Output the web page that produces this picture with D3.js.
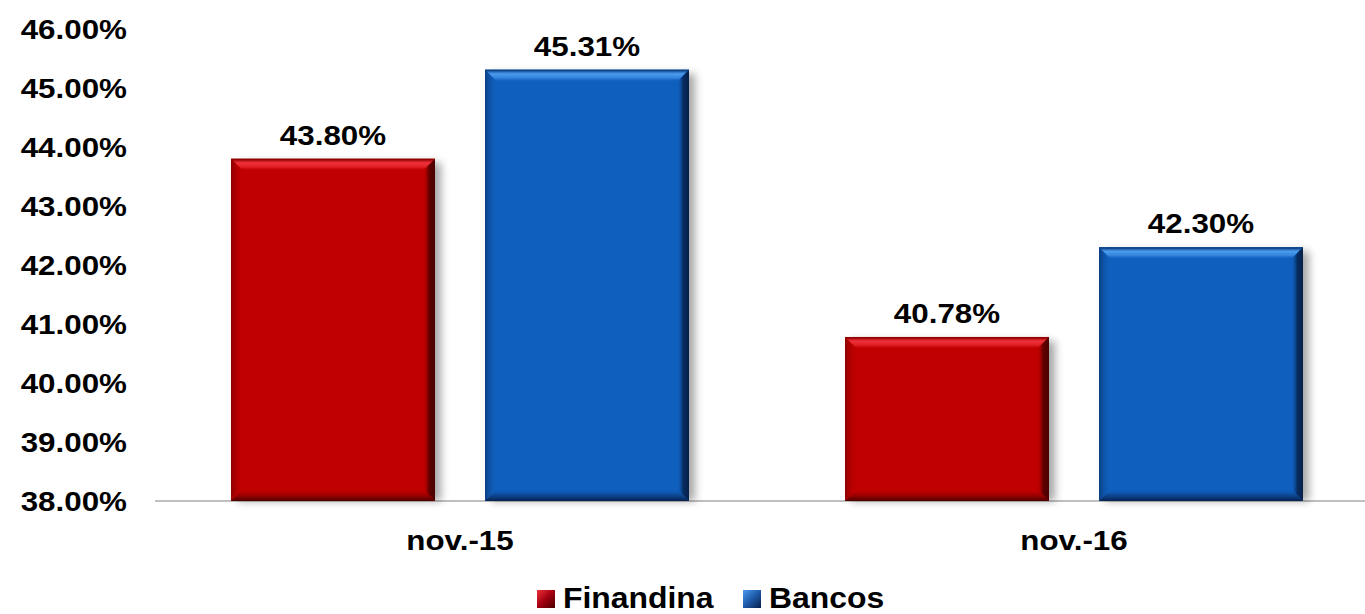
<!DOCTYPE html>
<html><head><meta charset="utf-8">
<script src="https://cdn.jsdelivr.net/npm/d3@7"></script>
<style>
html,body{margin:0;padding:0;background:#fff;}
text{font-family:"Liberation Sans",Arial,sans-serif;font-weight:bold;fill:#000;}
</style></head>
<body>
<svg id="c" width="1365" height="614"></svg>
<script>
const categories = ["nov.-15", "nov.-16"];
const seriesNames = ["Finandina", "Bancos"];
const finandina = [43.80, 40.78];
const bancos = [45.31, 42.30];
const yTicks = [38, 39, 40, 41, 42, 43, 44, 45, 46];

const svg = d3.select("#c");
const W = 1365, H = 614;
const y = d3.scaleLinear().domain([38, 46]).range([501, 29]);
const x = d3.scaleBand().domain(categories).range([153, 1381]).paddingInner(0).paddingOuter(0);
const xs = d3.scaleBand().domain(seriesNames).range([78, 536]).paddingInner(50/254).paddingOuter(0);

const styles = {
  Finandina: {base:"#C00000", light:"#F0303A", dark:"#4A0000", mid:"#8E0000", leg:"#A00010"},
  Bancos: {base:"#0F5FBE", light:"#4A9AEE", dark:"#06204A", mid:"#0B3E80", leg:"#1D5AA8"}
};

const defs = svg.append("defs");
defs.append("filter").attr("id","sh").attr("x","-20%").attr("y","-20%").attr("width","150%").attr("height","140%")
  .append("feGaussianBlur").attr("stdDeviation", 4);
function grad(id, x1,y1,x2,y2, stops){
  const g = defs.append("linearGradient").attr("id", id)
    .attr("x1",x1).attr("y1",y1).attr("x2",x2).attr("y2",y2);
  stops.forEach(s => g.append("stop").attr("offset", s[0]).attr("stop-color", s[1]).attr("stop-opacity", s[2] == null ? 1 : s[2]));
}
seriesNames.forEach(s => {
  const c = styles[s];
  grad("top"+s, 0,0,0,1, [[0,c.mid],[0.35,c.light],[0.7,c.light,0.6],[1,c.base,0]]);
  grad("right"+s, 1,0,0,0, [[0,c.dark],[0.5,c.dark,0.8],[1,c.base,0]]);
  grad("bottom"+s, 0,1,0,0, [[0,c.dark],[0.5,c.mid,0.7],[1,c.base,0]]);
  grad("left"+s, 0,0,1,0, [[0,c.mid],[1,c.base,0]]);
  grad("leg"+s, 0,0,1,1, [[0,c.light],[0.5,c.leg],[1,c.dark]]);
});

// axis line
svg.append("line").attr("x1",155).attr("x2",W).attr("y1",y(38)).attr("y2",y(38))
  .attr("stroke","#BFBFBF").attr("stroke-width",2);

// y axis labels
const SX = 1.12;
const yAxis = d3.axisLeft(y).tickValues(yTicks).tickSize(0).tickPadding(0)
  .tickFormat(d => d.toFixed(2) + "%");
const yg = svg.append("g").attr("transform","translate(127,0)").call(yAxis);
yg.select(".domain").remove();
yg.selectAll("text").attr("font-size",28).attr("dy","0.33em")
  .style("font-family",'"Liberation Sans",Arial,sans-serif').style("font-weight","bold")
  .attr("transform","scale(" + SX + ",1)").attr("x",0)
  .each(function(){ d3.select(this).attr("transform", null); });
yg.selectAll(".tick").each(function(){
  const t = d3.select(this).select("text");
  t.attr("transform","scale("+SX+",1)");
});

// bars
const data = [];
categories.forEach((c,i) => {
  data.push({cat:c, s:"Finandina", v:finandina[i]});
  data.push({cat:c, s:"Bancos", v:bancos[i]});
});
const b = 12;
data.forEach(d => {
  const x0 = x(d.cat) + xs(d.s), w = xs.bandwidth();
  const y0 = y(d.v), h = y(38) - y0;
  const g = svg.append("g");
  const c = styles[d.s];
  g.append("rect").attr("x", x0+6).attr("y", y0+4).attr("width", w).attr("height", h-4)
    .attr("fill","#000").attr("opacity",0.35).attr("filter","url(#sh)");
  g.append("rect").attr("x", x0).attr("y", y0).attr("width", w).attr("height", h).attr("fill", c.base);
  const pts = a => a.map(p => p.join(",")).join(" ");
  g.append("polygon").attr("points", pts([[x0,y0],[x0+w,y0],[x0+w-b,y0+b],[x0+b,y0+b]])).attr("fill","url(#top"+d.s+")");
  g.append("polygon").attr("points", pts([[x0,y0],[x0+b,y0+b],[x0+b,y0+h-b],[x0,y0+h]])).attr("fill","url(#left"+d.s+")");
  g.append("polygon").attr("points", pts([[x0+w,y0],[x0+w,y0+h],[x0+w-b,y0+h-b],[x0+w-b,y0+b]])).attr("fill","url(#right"+d.s+")");
  g.append("polygon").attr("points", pts([[x0,y0+h],[x0+w,y0+h],[x0+w-b,y0+h-b],[x0+b,y0+h-b]])).attr("fill","url(#bottom"+d.s+")");
  g.append("rect").attr("x", x0).attr("y", y0).attr("width", w).attr("height", 1.5).attr("fill", c.mid).attr("opacity",0.7);
  svg.append("text").attr("transform", "translate(" + (x0 + w/2) + "," + (y0 - 14) + ") scale(" + SX + ",1)")
    .attr("text-anchor","middle").attr("font-size",28).text(d.v.toFixed(2) + "%");
});

// x axis labels
const xAxis = d3.axisBottom(x).tickSize(0).tickPadding(0);
const xg = svg.append("g").attr("transform","translate(0," + 550 + ")").call(xAxis);
xg.select(".domain").remove();
xg.selectAll("text").attr("font-size",28).attr("dy",0).attr("y",0)
  .style("font-family",'"Liberation Sans",Arial,sans-serif').style("font-weight","bold")
  .attr("transform","scale("+SX+",1)");

// legend
const legX = [537, 743];
seriesNames.forEach((s,i) => {
  const g = svg.append("g").attr("transform","translate(" + legX[i] + ",590)");
  g.append("rect").attr("width",18).attr("height",18).attr("fill","url(#leg"+s+")");
  g.append("text").attr("transform","translate(26,18) scale(1.1,1)").attr("font-size",29).text(s);
});
</script>
</body></html>
